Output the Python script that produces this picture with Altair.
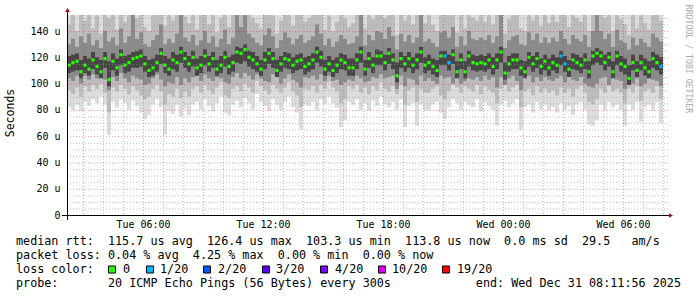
import altair as alt
import pandas as pd

MONO = "DejaVu Sans Mono"

# ---- data (12-minute columns from Tue 02:11:56 UTC) ----
MED = [114, 116, 117, 109, 114, 111, 118, 113, 109, 119, 103, 117, 112, 122, 114, 116, 119, 120, 121, 115, 110, 112, 116, 123, 114, 111, 118, 116, 124, 119,
       115, 120, 112, 114, 121, 115, 119, 111, 114, 120, 113, 116, 124, 123, 126, 120, 118, 115, 111, 118, 123, 119, 110, 115, 119, 118, 114, 117, 118, 113,
       115, 118, 124, 120, 111, 115, 110, 114, 118, 116, 112, 112, 118, 124, 111, 119, 114, 121, 121, 116, 123, 118, 106, 119, 115, 119, 114, 118, 124, 114,
       116, 113, 110, 121, 121, 116, 122, 109, 118, 109, 121, 116, 115, 116, 115, 118, 113, 118, 124, 108, 115, 118, 118, 112, 109, 120, 115, 119, 113, 117,
       112, 116, 114, 121, 115, 111, 118, 116, 114, 118, 109, 121, 123, 121, 116, 120, 109, 121, 115, 113, 104, 116, 110, 116, 112, 109, 119, 116, 113]

LOSS_STEPS = {94: 1, 95: 1, 123: 1, 124: 1, 148: 1}

LO1 = [82, 80, 84, 79, 86, 83, 88, 85, 90, 84, 61, 86, 82, 88, 85, 80, 87, 83, 78, 73, 76, 84, 88, 82, 61, 79, 77, 84, 75, 81,
       76, 84, 86, 80, 88, 83, 79, 85, 90, 78, 76, 84, 87, 82, 89, 85, 80, 92, 86, 83, 79, 88, 84, 80, 86, 90, 82, 78, 65, 84,
       83, 86, 80, 88, 84, 90, 85, 82, 67, 72, 86, 84, 88, 80, 85, 79, 87, 83, 90, 84, 82, 86, 80, 88, 67, 83, 85, 68, 84, 80,
       80, 84, 86, 78, 73, 82, 88, 85, 80, 86, 84, 82, 88, 79, 86, 83, 80, 68, 84, 87, 82, 85, 88, 65, 82, 84, 78, 86, 80, 84,
       80, 82, 78, 85, 80, 83, 76, 84, 86, 80, 69, 68, 72, 84, 80, 86, 82, 84, 80, 68, 84, 80, 86, 71, 82, 84, 80, 86, 70]

LO2 = [95, 92, 97, 90, 98, 94, 99, 96, 100, 93, 78, 97, 94, 99, 96, 92, 98, 95, 91, 88, 90, 96, 99, 94, 84, 92, 90, 96, 89, 94,
       90, 96, 98, 93, 99, 95, 92, 97, 101, 91, 89, 96, 98, 94, 100, 97, 93, 102, 98, 95, 92, 99, 96, 93, 97, 101, 94, 91, 82, 96,
       95, 98, 93, 99, 96, 101, 97, 94, 85, 88, 98, 96, 99, 93, 97, 92, 98, 95, 101, 96, 94, 98, 92, 99, 84, 95, 97, 86, 96, 93,
       93, 96, 98, 91, 88, 94, 99, 97, 93, 98, 96, 94, 99, 92, 98, 95, 93, 85, 96, 99, 94, 97, 99, 82, 94, 96, 91, 98, 93, 96,
       93, 95, 91, 97, 93, 96, 90, 96, 98, 93, 86, 84, 88, 96, 93, 98, 94, 96, 93, 85, 96, 93, 98, 87, 94, 96, 93, 98, 88]

LO3 = [104, 102, 106, 100, 106, 103, 107, 104, 106, 103, 95, 105, 102, 108, 104, 101, 106, 104, 103, 99, 100, 104, 107, 103, 98, 101, 100, 105, 99, 104,
       101, 105, 106, 102, 107, 104, 102, 105, 104, 101, 100, 105, 108, 104, 108, 106, 103, 107, 104, 102, 101, 107, 105, 100, 104, 107, 103, 101, 97, 105,
       104, 106, 103, 107, 102, 106, 102, 103, 99, 101, 103, 102, 106, 104, 101, 102, 105, 104, 107, 104, 105, 106, 96, 106, 98, 104, 103, 99, 106, 102,
       104, 102, 100, 106, 104, 105, 100, 105, 100, 102, 104, 103, 105, 102, 106, 103, 105, 97, 105, 99, 104, 106, 102, 95, 105, 106, 101, 105, 102, 105,
       103, 102, 104, 106, 101, 105, 103, 102, 105, 100, 98, 97, 100, 104, 105, 99, 106, 103, 102, 96, 104, 100, 104, 98, 100, 105, 103, 102, 98]

LO4 = [108, 109, 110, 104, 108, 106, 111, 107, 104, 112, 98, 110, 106, 114, 108, 109, 112, 112, 113, 109, 105, 106, 109, 115, 108, 106, 111, 109, 116, 112,
       109, 113, 106, 108, 114, 109, 112, 106, 108, 113, 107, 109, 116, 115, 117, 113, 111, 109, 106, 111, 115, 112, 105, 109, 112, 111, 108, 110, 111, 107,
       109, 111, 116, 113, 106, 109, 105, 108, 111, 110, 106, 106, 111, 116, 106, 112, 108, 114, 114, 110, 115, 111, 101, 112, 109, 112, 108, 111, 116, 108,
       110, 107, 105, 114, 114, 110, 115, 104, 111, 104, 113, 110, 109, 110, 109, 111, 107, 111, 116, 103, 109, 111, 111, 106, 104, 113, 109, 112, 107, 110,
       106, 110, 108, 114, 109, 105, 111, 110, 108, 111, 104, 114, 116, 114, 110, 113, 104, 114, 109, 107, 99, 110, 105, 110, 106, 104, 112, 110, 107]

HI4 = [121, 122, 123, 118, 121, 119, 124, 120, 118, 124, 117, 123, 119, 126, 121, 122, 124, 125, 126, 121, 118, 119, 122, 127, 121, 119, 124, 122, 128, 124,
       121, 125, 119, 121, 126, 121, 124, 118, 121, 125, 120, 122, 128, 127, 130, 125, 124, 121, 118, 124, 127, 124, 118, 121, 124, 123, 120, 122, 123, 120,
       121, 123, 128, 125, 118, 121, 118, 120, 123, 122, 119, 119, 123, 128, 118, 124, 120, 126, 125, 122, 127, 123, 116, 124, 121, 124, 120, 123, 128, 120,
       122, 119, 118, 125, 125, 122, 126, 117, 123, 117, 125, 122, 121, 122, 121, 123, 120, 123, 128, 116, 121, 123, 123, 118, 117, 124, 121, 124, 119, 122,
       119, 122, 120, 125, 121, 118, 123, 122, 120, 123, 117, 125, 127, 125, 122, 124, 117, 125, 121, 119, 114, 122, 117, 122, 119, 117, 124, 122, 120]

HI3 = [130, 134, 128, 136, 131, 138, 129, 133, 127, 140, 132, 135, 129, 142, 131, 136, 155, 134, 139, 130, 128, 133, 137, 145, 130, 134, 131, 138, 156, 135,
       132, 137, 129, 133, 140, 131, 136, 128, 134, 141, 130, 135, 155, 143, 160, 138, 135, 131, 129, 137, 142, 136, 127, 133, 139, 135, 130, 134, 137, 131,
       133, 136, 145, 138, 129, 134, 128, 132, 137, 134, 130, 131, 136, 158, 129, 137, 133, 140, 139, 134, 143, 136, 126, 138, 132, 137, 131, 135, 155, 132,
       134, 131, 128, 139, 140, 135, 143, 128, 136, 129, 140, 134, 133, 135, 133, 137, 131, 136, 158, 127, 133, 136, 137, 130, 129, 139, 133, 138, 131, 135,
       131, 135, 132, 140, 134, 130, 137, 134, 132, 137, 128, 140, 155, 140, 134, 138, 128, 141, 133, 131, 126, 135, 129, 134, 131, 128, 138, 135, 132]

HI2 = [145, 160, 140, 155, 148, 160, 142, 152, 138, 160, 150, 156, 141, 160, 147, 160, 160, 150, 158, 143, 140, 152, 160, 160, 144, 155, 148, 160, 160, 151,
       146, 160, 141, 153, 160, 145, 158, 139, 150, 160, 143, 155, 160, 160, 160, 157, 150, 146, 142, 160, 160, 152, 138, 148, 160, 153, 144, 160, 155, 147,
       150, 156, 160, 160, 141, 152, 140, 147, 160, 150, 143, 146, 155, 160, 142, 160, 149, 160, 158, 150, 160, 155, 137, 160, 148, 160, 145, 153, 160, 146,
       152, 145, 140, 160, 160, 153, 160, 139, 156, 142, 160, 150, 148, 155, 147, 160, 145, 154, 160, 138, 149, 156, 160, 142, 140, 160, 148, 160, 144, 153,
       146, 154, 147, 160, 152, 143, 160, 150, 147, 160, 140, 160, 160, 160, 150, 160, 140, 160, 149, 145, 137, 155, 142, 152, 146, 141, 160, 153, 148]

LOSS_LABELS = ["0", "1/20", "2/20", "3/20", "4/20", "10/20", "19/20"]
LOSS_VALUES = [0, 1, 2, 3, 4, 10, 19]
LOSS_COLORS = ["#26ff00", "#00b8ff", "#0059ff", "#5e00ff", "#7e00ff", "#dd00ff", "#ff0000"]

Y_LABELS = [0, 20, 40, 60, 80, 100, 120, 140]
START = "2025-12-30 02:11:56"
END = "2025-12-31 08:11:56"
STEP_MIN = 12

# ---- build table ----
start = pd.Timestamp(START, tz="UTC")
end = pd.Timestamp(END, tz="UTC")
n = min(len(MED), len(LO1), len(LO2), len(LO3), len(LO4), len(HI4), len(HI3), len(HI2))
fmt = "%Y-%m-%dT%H:%M:%SZ"
rows = []
for i in range(n):
    t0 = start + pd.Timedelta(minutes=STEP_MIN * i)
    rows.append({
        "t0": t0.strftime(fmt),
        "t1": (t0 + pd.Timedelta(minutes=STEP_MIN)).strftime(fmt),
        "tm": (t0 + pd.Timedelta(minutes=STEP_MIN / 2)).strftime(fmt),
        "med": MED[i], "loss": LOSS_STEPS.get(i, 0),
        "lo1": LO1[i], "lo2": LO2[i], "hi2": HI2[i], "lo3": LO3[i], "hi3": HI3[i],
        "lo4": LO4[i], "hi4": HI4[i],
    })
df = pd.DataFrame(rows)

ms = lambda ts: int(ts.timestamp() * 1000)
label_times = [ms(pd.Timestamp(s, tz="UTC")) for s in
               ["2025-12-30 06:00", "2025-12-30 12:00", "2025-12-30 18:00", "2025-12-31 00:00", "2025-12-31 06:00"]]

XSC = alt.Scale(type="utc", domain=[ms(start), ms(end)], nice=False)
XAX = alt.Axis(values=label_times, labelExpr="utcFormat(datum.value, '%a %H:%M')", title=None, grid=False,
               domain=False, ticks=False, tickSize=0, labelPadding=4, labelFont=MONO, labelFontSize=10,
               labelColor="#000", labelFlush=False, labelOverlap=False)
YSC = alt.Scale(domain=[0, 152.2], nice=False, zero=True)
NB = "\u00a0"
YAX = alt.Axis(values=Y_LABELS, labelExpr=f"datum.value == 0 ? '0{NB}{NB}' : datum.value + '{NB}u'",
               title=None, grid=False, domain=False, ticks=False, tickSize=0, labelPadding=7,
               labelFont=MONO, labelFontSize=10, labelColor="#000")

def X(f):
    return alt.X(f"{f}:T", scale=XSC, axis=XAX)

def Y(f):
    return alt.Y(f"{f}:Q", scale=YSC, axis=YAX)

base = alt.Chart(df)
smoke1 = base.mark_rect(color="#dcdcdc", clip=True).encode(x=X("t0"), x2="t1", y=Y("lo1"), y2=alt.value(0))
smoke2 = base.mark_rect(color="#bcbcbc", clip=True).encode(x=X("t0"), x2="t1", y=Y("lo2"), y2="hi2")
smoke3 = base.mark_rect(color="#8a8a8a", clip=True).encode(x=X("t0"), x2="t1", y=Y("lo3"), y2="hi3")
smoke4 = base.mark_rect(color="#464646", clip=True).encode(x=X("t0"), x2="t1", y=Y("lo4"), y2="hi4")

# grid
hours = pd.date_range(pd.Timestamp("2025-12-30 03:00", tz="UTC"), pd.Timestamp("2025-12-31 08:00", tz="UTC"), freq="1h")
vgrid = pd.DataFrame({"t": [h.strftime(fmt) for h in hours], "major": [h.hour % 3 == 0 for h in hours]})
hvals = list(range(5, 151, 5))
hgrid = pd.DataFrame({"v": hvals, "major": [v % 20 == 0 for v in hvals]})

vminor = alt.Chart(vgrid).transform_filter("!datum.major").mark_rule(
    color="#9a9a9a", opacity=0.6, strokeDash=[1, 2], xOffset=0.5).encode(
    x=X("t"), y=alt.value(0), y2=alt.value(200))
vmajor = alt.Chart(vgrid).transform_filter("datum.major").mark_rule(
    color="#ff0000", opacity=0.4, strokeDash=[1, 2], xOffset=0.5).encode(
    x=X("t"), y=alt.value(0), y2=alt.value(200))
hminor = alt.Chart(hgrid).transform_filter("!datum.major").mark_rule(
    color="#9a9a9a", opacity=0.6, strokeDash=[1, 2], yOffset=0.5).encode(
    y=Y("v"), x=alt.value(0), x2=alt.value(601))
hmajor = alt.Chart(hgrid).transform_filter("datum.major").mark_rule(
    color="#ff0000", opacity=0.4, strokeDash=[1, 2], yOffset=0.5).encode(
    y=Y("v"), x=alt.value(0), x2=alt.value(601))

medpts = base.mark_square(size=10, filled=True, opacity=1).encode(
    x=X("tm"), y=Y("med"),
    color=alt.Color("loss:N", scale=alt.Scale(domain=LOSS_VALUES, range=LOSS_COLORS), legend=None))

one = alt.Data(values=[{}])

def rule(**enc):
    return alt.Chart(one).mark_rule(color="#000", strokeWidth=1).encode(**enc)

xaxis_line = rule(x=alt.value(-5), x2=alt.value(603), y=alt.value(200.5))
yaxis_line = rule(x=alt.value(0.5), y=alt.value(-5), y2=alt.value(205))
arrow_up = alt.Chart(one).mark_point(shape="triangle-up", filled=True, size=22, color="#9a1010", opacity=1).encode(
    x=alt.value(0.5), y=alt.value(-5))
arrow_right = alt.Chart(one).mark_point(shape="triangle-right", filled=True, size=22, color="#9a1010", opacity=1).encode(
    x=alt.value(604), y=alt.value(200.5))

def txt(s, x, y, size=11.75, color="#000", angle=0, align="left", baseline="alphabetic"):
    return alt.Chart(one).mark_text(text=s, font=MONO, fontSize=size, color=color, align=align,
                                    baseline=baseline, angle=angle).encode(x=alt.value(x), y=alt.value(y))

def nb(s):
    return s.replace(" ", NB)

texts = [
    txt("Seconds", -56, 98, size=11.5, angle=270, align="center", baseline="middle"),
    txt("RRDTOOL / TOBI OETIKER", 621, 44, size=8.2, color="#aaaaaa", angle=90, align="center", baseline="middle"),
    txt(nb("median rtt:  115.7 us avg  126.4 us max  103.3 us min  113.8 us now  0.0 ms sd  29.5   am/s"), -51, 230),
    txt(nb("packet loss: 0.04 % avg  4.25 % max  0.00 % min  0.00 % now"), -51, 244),
    txt(nb("loss color:"), -51, 258),
    txt(nb("probe:       20 ICMP Echo Pings (56 Bytes) every 300s"), -51, 272),
    txt(nb("end: Wed Dec 31 08:11:56 2025"), 614, 272, align="right"),
]

sq_x = [45, 83, 140, 199, 257, 315, 379]
lab_x = [56, 93, 151, 209, 268, 325, 390]
legend_layers = []
for lab, col, sx, lx in zip(LOSS_LABELS, LOSS_COLORS, sq_x, lab_x):
    legend_layers.append(alt.Chart(one).mark_square(size=49, filled=True, color=col, stroke="#000",
                                                     strokeWidth=1, opacity=1).encode(
        x=alt.value(sx), y=alt.value(254.5)))
    legend_layers.append(txt(lab, lx, 258))

chart = alt.layer(
    smoke1, smoke2, smoke3, smoke4,
    vminor, hminor, vmajor, hmajor,
    medpts,
    xaxis_line, yaxis_line, arrow_up, arrow_right,
    *texts, *legend_layers,
).properties(
    width=600, height=200,
    padding={"left": 67, "top": 15, "right": 30, "bottom": 82},
    autosize=alt.AutoSizeParams(type="none"),
    background="white",
).configure_view(stroke=None)

chart.save("out.html", embed_options={"renderer": "svg", "actions": False})
